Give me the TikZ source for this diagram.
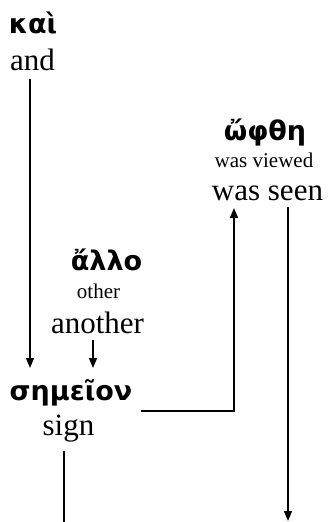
\documentclass[tikz,border=0pt]{standalone}
\usepackage{fontspec}
\setmainfont{Liberation Serif}
\newfontfamily\greekfont{DejaVu Sans}
\usetikzlibrary{arrows.meta}
\begin{document}
\begin{tikzpicture}[x=1pt,y=-1pt,
  gk/.style={font=\greekfont\bfseries\fontsize{27}{31}\selectfont, anchor=base, inner sep=0pt},
  en/.style={font=\fontsize{31}{36}\selectfont, anchor=base, inner sep=0pt},
  sm/.style={font=\fontsize{21}{24}\selectfont, anchor=base, inner sep=0pt},
  ln/.style={line width=1.1pt},
  arr/.style={line width=1.3pt, -{Triangle[length=10pt,width=8pt]}}]
\useasboundingbox (0,0) rectangle (327,522);
% words
\node[gk] (kai) at (33,33) {καὶ};
\node[en] (and) at (32.5,70) {and};
\node[gk] (allo) at (106.5,270) {ἄλλο};
\node[sm] (other) at (98.5,298) {other};
\node[en] (another) at (97.5,333) {another};
\node[gk] (semeion) at (71,400) {σημεῖον};
\node[en] (sign) at (68.5,435) {sign};
\node[gk] (ophthe) at (265,140) {ὤφθη};
\node[sm] (viewed) at (264,167) {was viewed};
\node[en] (seen) at (267.5,200) {was seen};
% connector end points
\coordinate (a1s) at (30,79);
\coordinate (a1e) at (30,368);
\coordinate (a2s) at (93,340);
\coordinate (a2e) at (93,368);
\coordinate (a3s) at (141,411);
\coordinate (a3e) at (234,208);
\coordinate (a4s) at (64,451);
\coordinate (a4e) at (64,522);
\coordinate (a5s) at (288,207);
\coordinate (a5e) at (288,521);
% connectors
\draw[arr] (a1s) -- (a1e);
\draw[arr] (a2s) -- (a2e);
\draw[arr, line width=1.6pt] (a3s) -- (a3s -| a3e) -- (a3e);
\draw[ln] (a4s) -- (a4e);
\draw[arr] (a5s) -- (a5e);
\end{tikzpicture}
\end{document}
